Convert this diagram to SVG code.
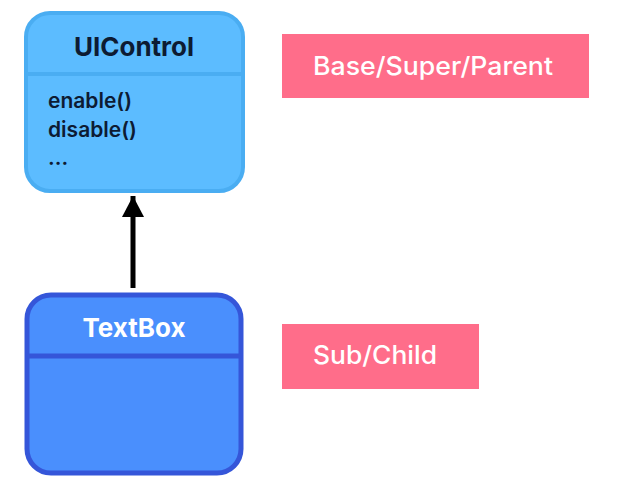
<svg xmlns="http://www.w3.org/2000/svg" width="633" height="481" viewBox="0 0 633 481">
  <style>
    .title { font-family: Inter, "Open Sans", "Liberation Sans", sans-serif; font-weight: 700; font-size: 26px; text-anchor: middle; }
    .member { font-family: Inter, "Open Sans", "Liberation Sans", sans-serif; font-weight: 600; font-size: 21px; fill: #0d1b33; }
    .tag { fill: #ff6d8a; }
    .tagtext { font-family: Inter, "Open Sans", "Liberation Sans", sans-serif; font-weight: 500; font-size: 25px; fill: #ffffff; }
  </style>
  <defs>
    <marker id="arrowhead" viewBox="0 0 21 22" refX="21" refY="11" markerUnits="userSpaceOnUse" markerWidth="21" markerHeight="22" orient="auto">
      <path d="M0,0 L21,11 L0,22 z" fill="#000"/>
    </marker>
  </defs>
  <rect width="633" height="481" fill="#ffffff"/>

  <!-- base class -->
  <g id="uicontrol">
    <rect x="26" y="13" width="217" height="178" rx="24" fill="#5cbcff" stroke="#4aadf2" stroke-width="4"/>
    <line x1="26" y1="74" x2="243" y2="74" stroke="#4aadf2" stroke-width="4"/>
    <text class="title" x="134" y="56" fill="#0d1b33">UIControl</text>
    <text class="member" x="48" y="108">enable()</text>
    <text class="member" x="48" y="137">disable()</text>
    <text class="member" x="48" y="165">...</text>
  </g>

  <!-- derived class -->
  <g id="textbox">
    <rect x="27" y="295" width="214" height="178" rx="24" fill="#4a8ffd" stroke="#3556d9" stroke-width="5"/>
    <line x1="27" y1="356" x2="241" y2="356" stroke="#3556d9" stroke-width="5"/>
    <text class="title" x="134" y="337" fill="#ffffff">TextBox</text>
  </g>

  <!-- labels -->
  <g id="label-base">
    <rect class="tag" x="282" y="34" width="307" height="64"/>
    <text class="tagtext" x="313" y="75" textLength="240" lengthAdjust="spacingAndGlyphs">Base/Super/Parent</text>
  </g>
  <g id="label-sub">
    <rect class="tag" x="282" y="324" width="197" height="65"/>
    <text class="tagtext" x="313" y="364" textLength="124" lengthAdjust="spacingAndGlyphs">Sub/Child</text>
  </g>

  <!-- connectors -->
  <g id="connectors">
    <line x1="133" y1="288" x2="133" y2="196" stroke="#000" stroke-width="5" marker-end="url(#arrowhead)"/>
  </g>
</svg>
